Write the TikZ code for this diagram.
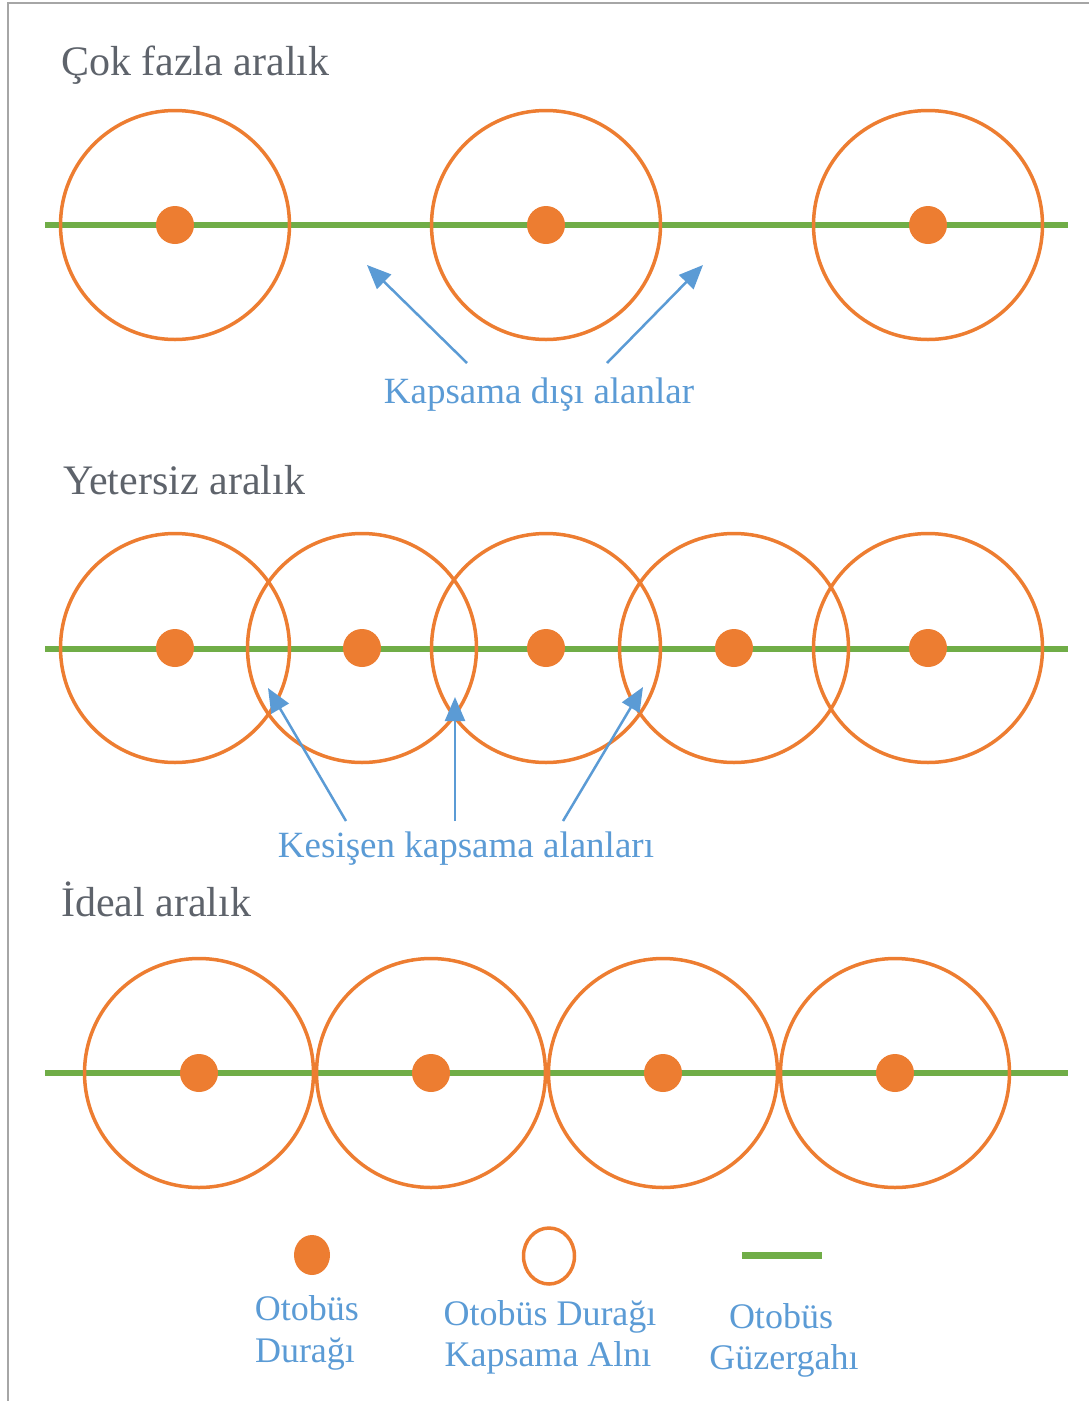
\documentclass[tikz,border=0pt]{standalone}
\usepackage{fontspec}
\setmainfont{Liberation Serif}
\usetikzlibrary{arrows.meta}
\definecolor{corange}{HTML}{ED7D31}
\definecolor{cgreen}{HTML}{70AD47}
\definecolor{cblue}{HTML}{5B9BD5}
\definecolor{ctitle}{HTML}{5E636B}
\tikzset{
  route/.style={cgreen, line width=6.5pt},
  coverage/.style={corange, line width=3.5pt},
  stopdot/.style={fill=corange, draw=none},
  title/.style={anchor=base west, inner sep=0pt, text=ctitle, font=\fontsize{42}{48}\selectfont},
  bluelabel/.style={anchor=base, inner sep=0pt, text=cblue, font=\fontsize{37}{42}\selectfont},
  legendlabel/.style={anchor=base, inner sep=0pt, text=cblue, font=\fontsize{36}{42}\selectfont},
  pointer/.style={cblue, line width=2.5pt, -{Triangle[length=24pt,width=20pt]}},
}
\begin{document}
\begin{tikzpicture}[x=1pt,y=-1pt]
\useasboundingbox (0,0) rectangle (1089,1401);
% frame
\draw[black!35, line width=2pt] (7.5,1401) -- (7.5,2.5) -- (1089,2.5);

% ---------- Row 1 ----------
\node[title] (t1) at (61,75) {Çok fazla aralık};
\coordinate (r1a) at (45,225);
\coordinate (r1b) at (1068,225);
\draw[route] (r1a) -- (r1b);
\foreach \x/\n in {175/a,546/b,928/c}{
  \coordinate (c1\n) at (\x,225);
  \draw[coverage] (c1\n) circle (114.5);
  \fill[stopdot] (c1\n) circle (19);
}
\node[bluelabel] (l1) at (539,403) {Kapsama dışı alanlar};
\coordinate (a1t) at (467,363);
\coordinate (a1h) at (367,265);
\coordinate (a2t) at (607,363);
\coordinate (a2h) at (703,265);
\draw[pointer] (a1t) -- (a1h);
\draw[pointer] (a2t) -- (a2h);

% ---------- Row 2 ----------
\node[title] (t2) at (63,494) {Yetersiz aralık};
\coordinate (r2a) at (45,649);
\coordinate (r2b) at (1068,649);
\draw[route] (r2a) -- (r2b);
\foreach \x/\n in {175/a,362/b,546/c,734/d,928/e}{
  \coordinate (c2\n) at (\x,648);
  \draw[coverage] (c2\n) circle (114.5);
  \fill[stopdot] (c2\n) circle (19);
}
\node[bluelabel] (l2) at (466,857) {Kesişen kapsama alanları};
\coordinate (b1t) at (346,821);
\coordinate (b1h) at (268,688);
\coordinate (b2t) at (455,821);
\coordinate (b2h) at (455,697);
\coordinate (b3t) at (563,821);
\coordinate (b3h) at (643,687);
\draw[pointer] (b1t) -- (b1h);
\draw[pointer] (b2t) -- (b2h);
\draw[pointer] (b3t) -- (b3h);

% ---------- Row 3 ----------
\node[title] (t3) at (61,916) {İdeal aralık};
\coordinate (r3a) at (45,1073);
\coordinate (r3b) at (1068,1073);
\draw[route] (r3a) -- (r3b);
\foreach \x/\n in {199/a,431/b,663/c,895/d}{
  \coordinate (c3\n) at (\x,1073);
  \draw[coverage] (c3\n) circle (114.5);
  \fill[stopdot] (c3\n) circle (19);
}

% ---------- Legend ----------
\coordinate (g1) at (312,1255);
\fill[stopdot] (g1) ellipse (18 and 20);
\coordinate (g2) at (549,1256);
\draw[coverage] (g2) ellipse (25.5 and 28);
\coordinate (g3a) at (742,1255);
\coordinate (g3b) at (822,1255);
\draw[cgreen, line width=7pt] (g3a) -- (g3b);

\node[legendlabel] (k1a) at (307,1320) {Otobüs};
\node[legendlabel] (k1b) at (305,1362) {Durağı};
\node[legendlabel] (k2a) at (550,1325) {Otobüs Durağı};
\node[legendlabel] (k2b) at (548,1366) {Kapsama Alnı};
\node[legendlabel] (k3a) at (781,1328) {Otobüs};
\node[legendlabel] (k3b) at (784,1369) {Güzergahı};
\end{tikzpicture}
\end{document}
